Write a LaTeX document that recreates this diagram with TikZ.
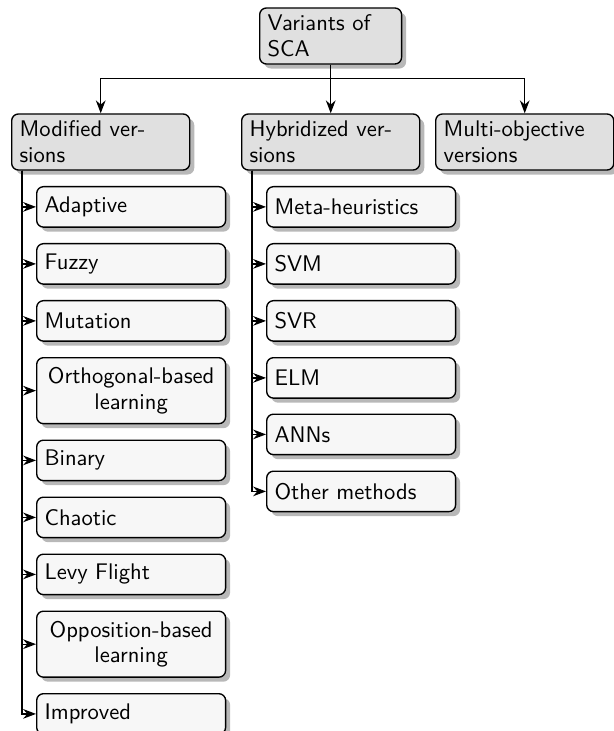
\documentclass[tikz,border=0pt]{standalone}
\usetikzlibrary{shadows,arrows.meta,calc}
\begin{document}
\begin{tikzpicture}[x=0.4425pt,y=-0.4425pt,
  base/.style={draw=black, line width=0.6pt, rounded corners=3pt,
    drop shadow={shadow xshift=2pt, shadow yshift=-2pt, fill=black!28, opacity=1},
    font=\sffamily\fontsize{10}{11.4}\selectfont,
    inner xsep=3.5pt, inner ysep=0pt, align=left, anchor=north west},
  topbox/.style={base, fill=black!12, text width=55.8pt, minimum height=24.8pt},
  lvlone/.style={base, fill=black!12, text width=71.8pt, minimum height=24.8pt},
  leaf/.style={base, fill=black!3, text width=76.6pt, minimum height=17.9pt},
  leafii/.style={leaf, minimum height=29.2pt, align=center},
  arr/.style={-{Stealth}, line width=0.6pt}]
\useasboundingbox (0,0) rectangle (613,731);

\node[topbox] (top) at (259,7.3) {Variants of\\SCA};
\node[lvlone] (mod) at (11,113.3) {Modified ver-\\sions};
\node[lvlone] (hyb) at (241,113.3) {Hybridized ver-\\sions};
\node[lvlone] (mul) at (435,113.3) {Multi-objective\\versions};

\draw[arr] (top.south) -- ++(0,14) -| (mod.north);
\draw[arr] (top.south) -- ++(0,14) -| (hyb.north);
\draw[arr] (top.south) -- ++(0,14) -| (mul.north);

% Modified versions
\node[leaf]   (a1) at (36,186)   {Adaptive};
\node[leaf]   (a2) at (36,243)   {Fuzzy};
\node[leaf]   (a3) at (36,300)   {Mutation};
\node[leafii] (a4) at (36,357)   {Orthogonal-based\\learning};
\node[leaf]   (a5) at (36,439.5) {Binary};
\node[leaf]   (a6) at (36,496.5) {Chaotic};
\node[leaf]   (a7) at (36,553.5) {Levy Flight};
\node[leafii] (a8) at (36,610.5) {Opposition-based\\learning};
\node[leaf]   (a9) at (36,693)   {Improved};

% Hybridized versions
\node[leaf] (b1) at (266,186)   {Meta-heuristics};
\node[leaf] (b2) at (266,243)   {SVM};
\node[leaf] (b3) at (266,300)   {SVR};
\node[leaf] (b4) at (266,357)   {ELM};
\node[leaf] (b5) at (266,413.5) {ANNs};
\node[leaf] (b6) at (266,470.5) {Other methods};

\coordinate (mA) at ($(mod.south west)+(11,0)$);
\coordinate (mB) at ($(hyb.south west)+(11,0)$);
\foreach \n in {a1,a2,a3,a4,a5,a6,a7,a8,a9}
  \draw[arr] (mA) |- (\n.west);
\foreach \n in {b1,b2,b3,b4,b5,b6}
  \draw[arr] (mB) |- (\n.west);
\end{tikzpicture}
\end{document}
